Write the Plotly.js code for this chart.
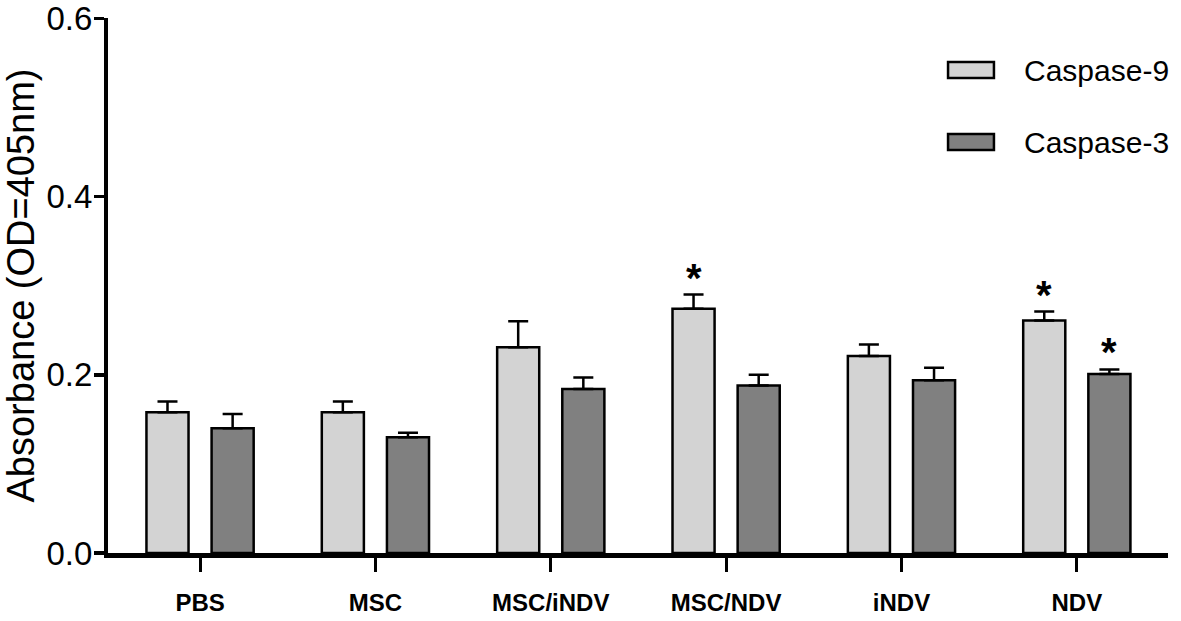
<!DOCTYPE html>
<html>
<head>
<meta charset="utf-8">
<script src="https://cdn.plot.ly/plotly-3.0.1.min.js"></script>
<style>html,body{margin:0;padding:0;background:#fff;}#chart{width:1181px;height:621px;}</style>
</head>
<body>
<div id="chart"></div>
<script>
const categories = ["PBS", "MSC", "MSC/iNDV", "MSC/NDV", "iNDV", "NDV"];
const caspase9 = [0.158, 0.158, 0.231, 0.274, 0.221, 0.261];
const caspase9Err = [0.012, 0.012, 0.029, 0.016, 0.013, 0.010];
const caspase3 = [0.140, 0.130, 0.184, 0.188, 0.194, 0.201];
const caspase3Err = [0.016, 0.005, 0.013, 0.012, 0.014, 0.005];
const sig9 = [false, false, false, true, false, true];
const sig3 = [false, false, false, false, false, true];
const yTicks = [0, 0.2, 0.4, 0.6];

const fontMain = "Liberation Sans, Arial, Helvetica, sans-serif";

function errTrace(name, vals, errs, color) {
  return {
    type: "bar", name: name, x: categories, y: vals,
    marker: {color: color, line: {color: "#000", width: 2.5}},
    error_y: {type: "data", symmetric: false, array: errs, arrayminus: errs.map(() => 0),
      color: "#000", thickness: 2.5, width: 10},
    showlegend: false
  };
}

const data = [
  errTrace("Caspase-9", caspase9, caspase9Err, "#d3d3d3"),
  errTrace("Caspase-3", caspase3, caspase3Err, "#808080")
];

const annotations = [];
const starFont = {size: 40, color: "#000", family: fontMain, weight: "bold"};
categories.forEach((c, i) => {
  if (sig9[i]) annotations.push({x: c, y: caspase9[i] + caspase9Err[i], xref: "x", yref: "y",
    text: "*", showarrow: false, xshift: -32.5, yshift: 17, yanchor: "middle", font: starFont});
  if (sig3[i]) annotations.push({x: c, y: caspase3[i] + caspase3Err[i], xref: "x", yref: "y",
    text: "*", showarrow: false, xshift: 32.5, yshift: 17, yanchor: "middle", font: starFont});
});

// legend drawn manually (wide swatches)
const legendItems = [
  {label: "Caspase-9", color: "#d3d3d3", y0: 0.8879, y1: 0.9178, ty: 0.9028},
  {label: "Caspase-3", color: "#808080", y0: 0.7533, y1: 0.7832, ty: 0.7682}
];
const shapes = [];
legendItems.forEach(it => {
  shapes.push({type: "rect", xref: "paper", yref: "paper", x0: 0.7925, x1: 0.8358,
    y0: it.y0, y1: it.y1, fillcolor: it.color, line: {color: "#000", width: 2.5}});
  annotations.push({xref: "paper", yref: "paper", x: 0.8623, y: it.ty, xanchor: "left",
    yanchor: "middle", text: it.label, showarrow: false,
    font: {size: 30, color: "#000", family: fontMain}});
});

const layout = {
  width: 1181, height: 621,
  margin: {l: 108, r: 13, t: 18, b: 68},
  paper_bgcolor: "#fff", plot_bgcolor: "#fff",
  barmode: "group", bargap: 0.257, bargroupgap: 0.354,
  xaxis: {
    type: "category", range: [-0.525, 5.52], showline: true, linecolor: "#000", linewidth: 5,
    ticks: "outside", ticklen: 14, tickwidth: 3, tickcolor: "#000", ticklabelstandoff: 10,
    tickfont: {size: 24, color: "#000", family: fontMain, weight: "bold"},
    showgrid: false, zeroline: false, fixedrange: true, automargin: false
  },
  yaxis: {
    range: [0, 0.6004], tickvals: yTicks, ticktext: yTicks.map(v => v.toFixed(1)),
    showline: true, linecolor: "#000", linewidth: 4, ticklabeloverflow: "allow",
    ticks: "outside", ticklen: 10, tickwidth: 3.5, tickcolor: "#000", ticklabelstandoff: -5,
    tickfont: {size: 33, color: "#000", family: fontMain},
    showgrid: false, zeroline: false, automargin: false,
    title: {text: "Absorbance (OD=405nm)", standoff: 6, font: {size: 38, color: "#000", family: fontMain}}
  },
  shapes: shapes,
  annotations: annotations,
  font: {family: fontMain, color: "#000"}
};

Plotly.newPlot("chart", data, layout, {displayModeBar: false, staticPlot: true});
</script>
</body>
</html>
